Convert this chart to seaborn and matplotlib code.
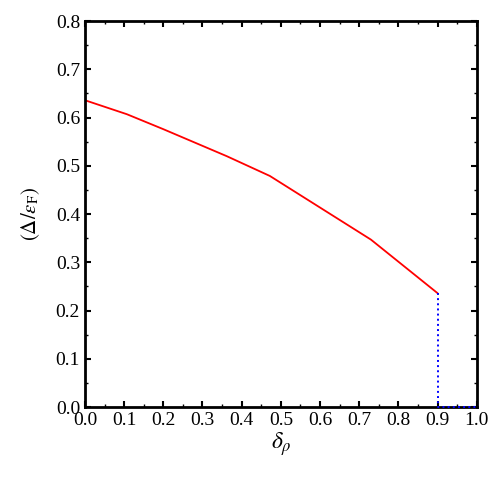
import numpy as np
import pandas as pd
import seaborn as sns
import matplotlib
matplotlib.use("Agg")
import matplotlib.pyplot as plt
from matplotlib.ticker import MultipleLocator

# gap curve (red) and vanishing part (blue dotted)
delta_rho = [0.0, 0.107, 0.2, 0.362, 0.472, 0.73, 0.9]
gap = [0.636, 0.607, 0.576, 0.520, 0.479, 0.347, 0.236]
drop_x = [0.9, 0.9, 1.0]
drop_y = [0.236, 0.0, 0.0]

sns.set_style("ticks")
plt.rcParams['font.family'] = ['Liberation Serif', 'DejaVu Serif']
plt.rcParams['mathtext.fontset'] = 'stix'
plt.rcParams['text.color'] = 'black'
plt.rcParams['axes.labelcolor'] = 'black'
plt.rcParams['xtick.color'] = 'black'
plt.rcParams['ytick.color'] = 'black'
plt.rcParams['axes.edgecolor'] = 'black'

fig = plt.figure(figsize=(4.91, 4.91), dpi=100)
ax = fig.add_axes([0.173, 0.171, 0.798, 0.786])

df = pd.DataFrame({'x': delta_rho, 'y': gap})
sns.lineplot(data=df, x='x', y='y', color='red', lw=1.3, ax=ax, sort=False)
ax.plot(drop_x, drop_y, color='blue', ls=':', lw=1.4, clip_on=False, zorder=5)

ax.set_xlim(0, 1.0)
ax.set_ylim(0, 0.8)
ax.xaxis.set_major_locator(MultipleLocator(0.1))
ax.xaxis.set_minor_locator(MultipleLocator(0.05))
ax.yaxis.set_major_locator(MultipleLocator(0.1))
ax.yaxis.set_minor_locator(MultipleLocator(0.05))
ax.xaxis.set_major_formatter(plt.FuncFormatter(lambda v, p: f"{v:.1f}"))
ax.yaxis.set_major_formatter(plt.FuncFormatter(lambda v, p: f"{v:.1f}"))
ax.tick_params(which='both', direction='in', top=True, right=True, labelsize=14)
ax.tick_params(which='major', length=4, width=1.5)
ax.tick_params(which='minor', length=2, width=1)
for s in ax.spines.values():
    s.set_linewidth(2)

ax.set_xlabel(r'$\delta_\rho$', fontsize=17, labelpad=1)
ax.set_ylabel(r'$(\Delta/\epsilon_{\rm F})$', fontsize=15, labelpad=10)

fig.savefig('out.png', dpi=100)
